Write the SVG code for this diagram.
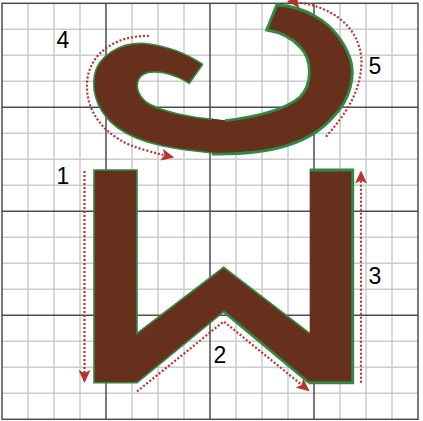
<svg xmlns="http://www.w3.org/2000/svg" width="423" height="421" viewBox="0 0 423 421">
<defs>
<style>
.minor{stroke:#cccccc;stroke-width:1.5;fill:none}
.major{stroke:#4d4d4d;stroke-width:1.5;fill:none}
.ink{fill:#66301c;stroke:none}
.edge{fill:none;stroke:#2f8a45;stroke-linejoin:miter}
.guide{fill:none;stroke:#b83232;stroke-width:2.2;stroke-dasharray:2 2}
.num{font-family:"Liberation Sans",Arial,sans-serif;font-size:23px;fill:#000;text-anchor:middle}
</style>
<marker id="ah" viewBox="0 0 13 12" refX="12" refY="6" markerWidth="13" markerHeight="12" markerUnits="userSpaceOnUse" orient="auto">
<path d="M0,0 L13,6 L0,12 L3,6 Z" fill="#b83232"/>
</marker>
</defs>
<rect width="423" height="421" fill="#ffffff"/>
<g id="grid">
<path class="minor" d="M28,3.3V419.3M54,3.3V419.3M80,3.3V419.3M132,3.3V419.3M158,3.3V419.3M184,3.3V419.3M236,3.3V419.3M262,3.3V419.3M288,3.3V419.3M340,3.3V419.3M366,3.3V419.3M392,3.3V419.3"/>
<path class="minor" d="M2,29.3H418M2,55.3H418M2,81.3H418M2,133.3H418M2,159.3H418M2,185.3H418M2,237.3H418M2,263.3H418M2,289.3H418M2,341.3H418M2,367.3H418M2,393.3H418"/>
<path class="major" d="M106,3.3V419.3M210,3.3V419.3M314,3.3V419.3M2,107.3H418M2,211.3H418M2,315.3H418"/>
<rect class="major" x="2" y="3.3" width="416" height="416"/>
</g>
<g id="stroke-w">
<path class="ink" d="M94,170 L137,170 L137,333.3 L223.7,267.3 L309.7,333.3 L309.7,170 L352.7,170 L352.7,382.7 L309,382.7 L223.7,311.7 L137,382.7 L94,382.7 Z"/>
<path class="edge" stroke-width="1.6" d="M309.7,333.3 L223.7,267.3 L137,333.3 L137,170 L94,170 L94,382.7 L137,382.7 L223.7,311.7"/>
<path class="edge" stroke-width="2.6" d="M223.7,311.7 L309,382.7"/>
<path class="edge" stroke-width="3" d="M309.7,170 L352.7,170 L352.7,382.7 L309,382.7"/>
</g>
<g id="stroke-4">
<path class="ink" d="M202.7,64.3 C190,56 170,46 145,43.5 C120,42 98,56 94.5,75 C91,95 100,115 118,128 C140,144 175,150 226,154 L226,120.3 C195,118 160,112 146,102 C134,92 134,76 148,72.5 C162,70 178,76 189.3,83.3 Z"/>
<path class="edge" stroke-width="1.6" d="M202.7,64.3 C190,56 170,46 145,43.5 C120,42 98,56 94.5,75 C91,95 100,115 118,128 C140,144 175,150 226,154 M213,119.4 C195,118 160,112 146,102 C134,92 134,76 148,72.5 C162,70 178,76 189.3,83.3 L202.7,64.3"/>
</g>
<g id="stroke-5">
<path class="ink" d="M212,118.6 L225,120.7 C255,117 285,110 300,97 C312,85 313,60 300,47 C292,38 280,32 266.7,30 L276.7,5 C300,6 335,18 350,58 C356,75 350,100 334,116 C312,142 275,155 212,154 Z"/>
<path class="edge" stroke-width="2.8" d="M225,120.7 C255,117 285,110 300,97 C312,85 313,60 300,47 C292,38 280,32 266.7,30 L276.7,5 C300,6 335,18 350,58 C356,75 350,100 334,116 C312,142 275,155 212,154"/>
</g>
<g id="connectors">
<path class="guide" marker-end="url(#ah)" d="M84.5,171 L84.5,382"/>
<path class="guide" marker-end="url(#ah)" d="M137,391.5 L223.7,321.5 L308.7,390.5"/>
<path class="guide" marker-end="url(#ah)" d="M361,382.7 L361,171.5"/>
<path class="guide" marker-end="url(#ah)" d="M149,36 C120,35 92,50 87.5,78 C83,110 105,140 145,150 C155,153 163,155 173.3,157.3"/>
<path class="guide" marker-end="url(#ah)" d="M326,136.7 C345,115 361,92 361.5,62 C361,30 335,4 288,1.5"/>
</g>
<g id="labels">
<text class="num" x="63" y="48.3">4</text>
<text class="num" x="63" y="184">1</text>
<text class="num" x="220" y="363">2</text>
<text class="num" x="375" y="284">3</text>
<text class="num" x="375" y="74">5</text>
</g>
</svg>
